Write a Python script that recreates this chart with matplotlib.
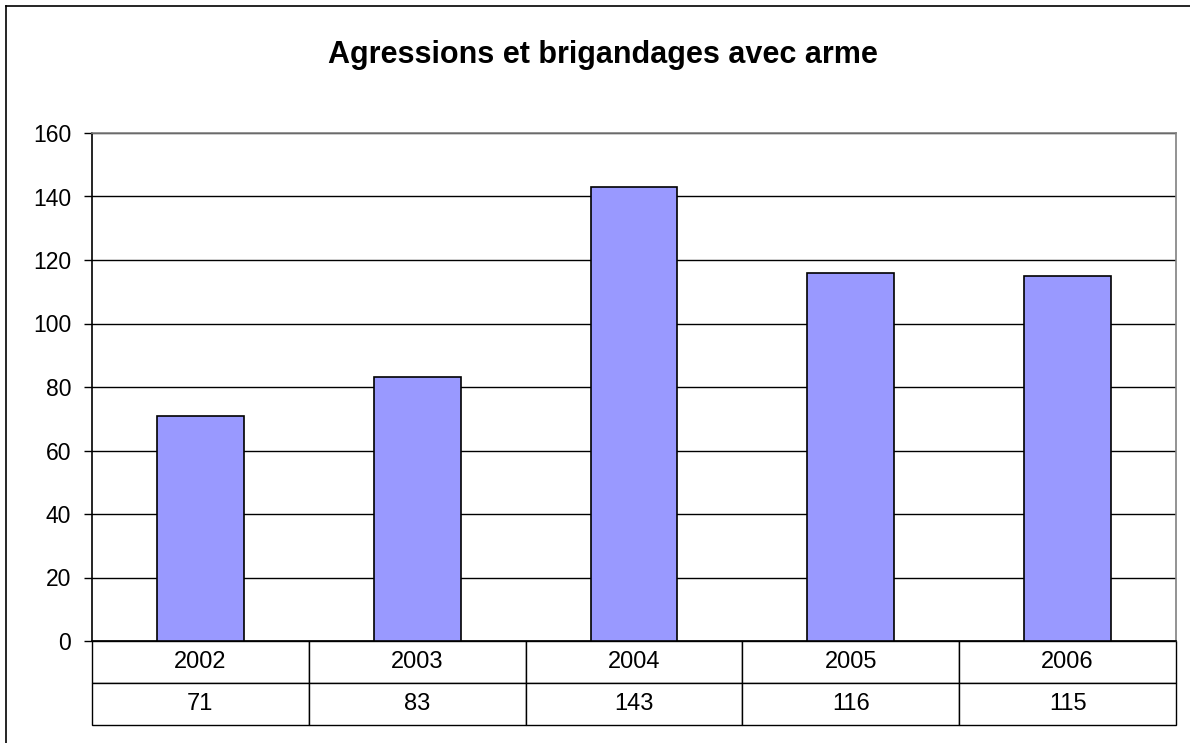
import matplotlib.pyplot as plt
from matplotlib.lines import Line2D

plt.rcParams['font.family'] = ['Liberation Sans', 'DejaVu Sans']

years = ["2002", "2003", "2004", "2005", "2006"]
values = [71, 83, 143, 116, 115]
title = "Agressions et brigandages avec arme"

W, H = 1190, 743
fig = plt.figure(figsize=(W / 100, H / 100), dpi=100)

# plot area in pixels
left, right, top, bottom = 92, 1176, 133, 641
ax = fig.add_axes([left / W, 1 - bottom / H, (right - left) / W, (bottom - top) / H])

x = range(len(years))
ax.bar(x, values, width=0.4, color="#9999FF", edgecolor="black", linewidth=1.2, zorder=3)
ax.set_xlim(-0.5, len(years) - 0.5)
ax.set_ylim(0, 160)
ax.set_yticks(range(0, 161, 20))
ax.yaxis.grid(True, color="black", linewidth=1)
ax.set_axisbelow(True)
ax.set_xticks([])
ax.tick_params(axis="y", labelsize=16.5, length=6, width=1, direction="out", pad=9)

ax.spines["left"].set_color("black")
ax.spines["bottom"].set_color("black")
ax.spines["top"].set_color("#808080")
ax.spines["right"].set_color("#808080")
for s in ax.spines.values():
    s.set_linewidth(1.2)

# data table under the axis
tbl_h = (725 - 641) / (bottom - top)
tbl = ax.table(cellText=[years, [str(v) for v in values]], cellLoc="center",
               bbox=[0, -tbl_h, 1, tbl_h])
tbl.auto_set_font_size(False)
tbl.set_fontsize(17)
for cell in tbl.get_celld().values():
    cell.set_linewidth(1)
    cell.set_edgecolor("black")

fig.text(603 / W, 1 - 55 / H, title, ha="center", va="center",
         fontsize=22, fontweight="bold")

# outer chart frame (top and left visible)
fig.add_artist(Line2D([6 / W, 6 / W], [0, 1 - 6 / H], color="black", linewidth=1.2))
fig.add_artist(Line2D([6 / W, 1], [1 - 6 / H, 1 - 6 / H], color="black", linewidth=1.2))

fig.savefig("out.png", dpi=100)
